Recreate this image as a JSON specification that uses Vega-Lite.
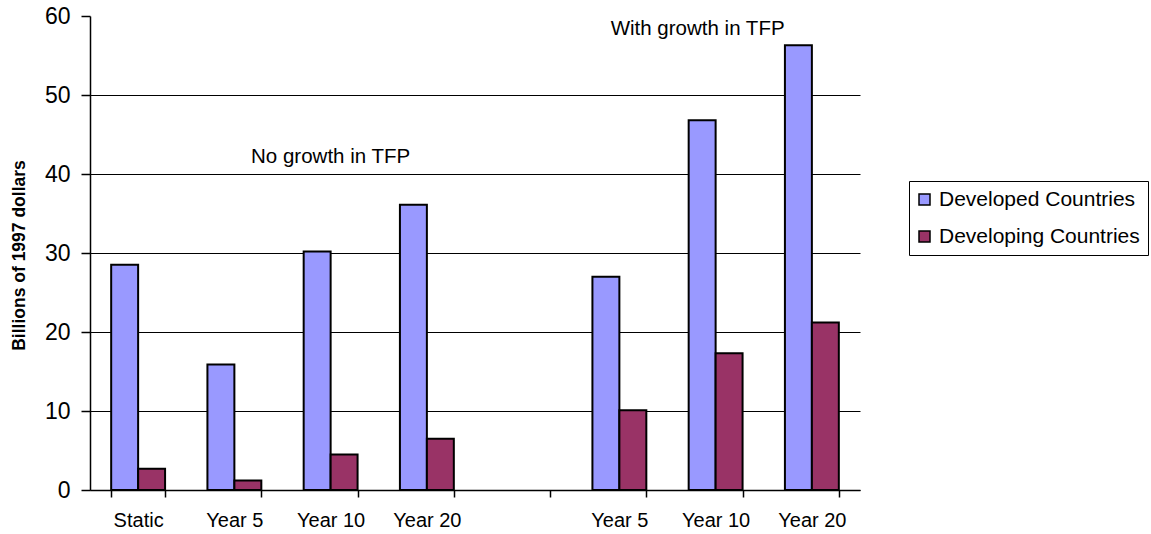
{
  "$schema": "https://vega.github.io/schema/vega-lite/v6.json",
  "autosize": {"type": "none"},
  "padding": {"left": 90, "top": 16, "right": 291, "bottom": 44},
  "width": 770,
  "height": 474,
  "background": "white",
  "config": {
    "view": {"stroke": null},
    "font": "Liberation Sans",
    "axis": {"labelFont": "Liberation Sans", "titleFont": "Liberation Sans", "labelColor": "black", "titleColor": "black", "domainColor": "black", "tickColor": "black"},
    "legend": {"labelFont": "Liberation Sans"}
  },
  "datasets": {
    "bars": [
      {"cat": "NG|Static", "series": "Developed Countries", "value": 28.5},
      {"cat": "NG|Static", "series": "Developing Countries", "value": 2.7},
      {"cat": "NG|Year 5", "series": "Developed Countries", "value": 15.9},
      {"cat": "NG|Year 5", "series": "Developing Countries", "value": 1.2},
      {"cat": "NG|Year 10", "series": "Developed Countries", "value": 30.2},
      {"cat": "NG|Year 10", "series": "Developing Countries", "value": 4.5},
      {"cat": "NG|Year 20", "series": "Developed Countries", "value": 36.1},
      {"cat": "NG|Year 20", "series": "Developing Countries", "value": 6.5},
      {"cat": "WG|Year 5", "series": "Developed Countries", "value": 27.0},
      {"cat": "WG|Year 5", "series": "Developing Countries", "value": 10.1},
      {"cat": "WG|Year 10", "series": "Developed Countries", "value": 46.8},
      {"cat": "WG|Year 10", "series": "Developing Countries", "value": 17.3},
      {"cat": "WG|Year 20", "series": "Developed Countries", "value": 56.3},
      {"cat": "WG|Year 20", "series": "Developing Countries", "value": 21.2}
    ]
  },
  "layer": [
    {
      "data": {"name": "bars"},
      "mark": {"type": "bar", "stroke": "black", "strokeWidth": 2},
      "encoding": {
        "x": {
          "field": "cat", "type": "nominal",
          "scale": {"domain": ["NG|Static", "NG|Year 5", "NG|Year 10", "NG|Year 20", "GAP|", "WG|Year 5", "WG|Year 10", "WG|Year 20"], "paddingInner": 0.44, "paddingOuter": 0.22},
          "axis": {"title": null, "labelExpr": "split(datum.label, '|')[1]", "labelAngle": 0, "tickBand": "extent", "tickSize": 7, "labelFontSize": 20, "labelPadding": 13, "grid": false, "domainWidth": 1.5, "tickWidth": 1.5}
        },
        "xOffset": {"field": "series", "type": "nominal", "scale": {"paddingInner": 0, "paddingOuter": 0}},
        "y": {
          "field": "value", "type": "quantitative",
          "scale": {"domain": [0, 60], "nice": false},
          "axis": {
            "title": "Billions of 1997 dollars", "titleFontSize": 17.5, "titleFontWeight": "bold", "titleX": -62, "titleY": 239,
            "values": [0, 10, 20, 30, 40, 50, 60], "labelFontSize": 23, "tickSize": 9, "labelPadding": 11,
            "domainWidth": 1.5, "tickWidth": 1.5,
            "grid": true, "gridColor": "black", "gridWidth": 1,
            "gridOpacity": {"condition": {"test": "datum.value >= 60", "value": 0}, "value": 1}
          }
        },
        "color": {
          "field": "series", "type": "nominal",
          "scale": {"domain": ["Developed Countries", "Developing Countries"], "range": ["#9999FF", "#993366"]},
          "legend": {
            "title": null, "orient": "none", "legendX": 819, "legendY": 165,
            "symbolType": "square", "symbolSize": 121, "symbolStrokeColor": "black", "symbolStrokeWidth": 1.5, "symbolOffset": -3,
            "labelFontSize": 21, "labelColor": "black", "labelLimit": 400, "strokeColor": "black", "padding": 8, "rowPadding": 15, "labelOffset": 4
          }
        }
      }
    },
    {
      "data": {"values": [{"cat": "NG|Year 10", "value": 42.2, "label": "No growth in TFP"}]},
      "mark": {"type": "text", "fontSize": 20.5, "color": "black", "font": "Liberation Sans"},
      "encoding": {
        "x": {"field": "cat", "type": "nominal"},
        "y": {"field": "value", "type": "quantitative"},
        "text": {"field": "label"}
      }
    },
    {
      "data": {"values": [{"cat": "WG|Year 10", "value": 58.4, "label": "With growth in TFP"}]},
      "mark": {"type": "text", "fontSize": 20.5, "color": "black", "font": "Liberation Sans", "dx": -18},
      "encoding": {
        "x": {"field": "cat", "type": "nominal"},
        "y": {"field": "value", "type": "quantitative"},
        "text": {"field": "label"}
      }
    }
  ]
}
